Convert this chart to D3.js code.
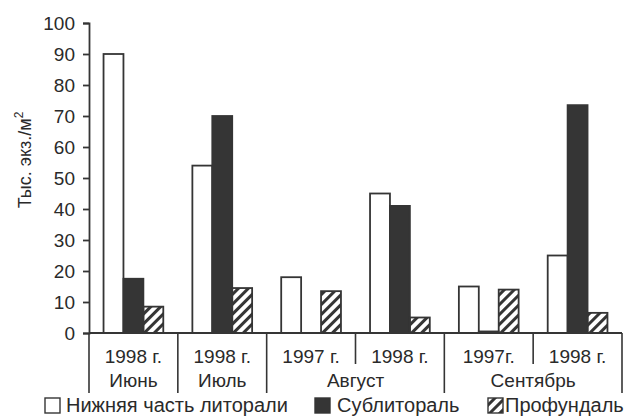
<!DOCTYPE html>
<html>
<head>
<meta charset="utf-8">
<script src="https://cdn.jsdelivr.net/npm/d3@7"></script>
<style>
  body { margin: 0; background: #fff; }
  svg { font-family: 'Liberation Sans', Arial, sans-serif; }
</style>
</head>
<body>
<div id="chart"></div>
<script>
// data
let groups = ['g1', 'g2', 'g3', 'g4', 'g5', 'g6']
let years = ['1998 г.', '1998 г.', '1997 г.', '1998 г.', '1997г.', '1998 г.']
let months = [
  { name: 'Июнь', from: 0, to: 0 },
  { name: 'Июль', from: 1, to: 1 },
  { name: 'Август', from: 2, to: 3 },
  { name: 'Сентябрь', from: 4, to: 5 }
]
let series = ['Нижняя часть литорали', 'Сублитораль', 'Профундаль']
let littoral = [90, 54, 18, 45, 15, 25]
let sublittoral = [17.5, 70, 0, 41, 0.5, 73.5]
let profundal = [8.5, 14.5, 13.5, 5, 14, 6.5]
let yTicks = [0, 10, 20, 30, 40, 50, 60, 70, 80, 90, 100]

let ink = '#353535'
let textInk = '#2a2a2a'
let width = 625
let height = 416
let margin = { top: 23, left: 89, right: 3, bottom: 83 }

let svg = d3.select('#chart')
  .append('svg')
  .attr('width', width)
  .attr('height', height)

let defs = svg.append('defs')
defs.append('pattern')
  .attr('id', 'hatch')
  .attr('patternUnits', 'userSpaceOnUse')
  .attr('width', 7)
  .attr('height', 7)
  .attr('patternTransform', 'rotate(45)')
  .append('rect')
  .attr('x', 0)
  .attr('y', 0)
  .attr('width', 3)
  .attr('height', 7)
  .attr('fill', ink)

let x0 = d3.scaleBand()
  .domain(groups)
  .range([margin.left, width - margin.right])

let x1 = d3.scaleBand()
  .domain(series)
  .range([0, x0.bandwidth()])
  .paddingOuter(0.73)

let y = d3.scaleLinear()
  .domain([0, 100])
  .range([height - margin.bottom, margin.top])

let fills = ['#fff', ink, 'url(#hatch)']
let values = [littoral, sublittoral, profundal]

let rows = []
groups.forEach((g, i) => {
  series.forEach((s, j) => {
    rows.push({ group: g, series: s, value: values[j][i], fill: fills[j] })
  })
})

svg.selectAll('.bar')
  .data(rows)
  .enter()
  .append('rect')
  .attr('class', 'bar')
  .attr('x', d => x0(d.group) + x1(d.series))
  .attr('y', d => y(d.value))
  .attr('width', x1.bandwidth())
  .attr('height', d => y(0) - y(d.value))
  .attr('fill', d => d.fill)
  .attr('stroke', ink)
  .attr('stroke-width', 1.8)

// y axis
let yAxis = svg.append('g')
  .attr('transform', `translate(${margin.left},0)`)
  .call(d3.axisLeft(y).tickValues(yTicks).tickSize(6).tickPadding(8))
yAxis.select('.domain').attr('stroke', ink).attr('stroke-width', 1.8)
yAxis.selectAll('.tick line').attr('stroke', ink).attr('stroke-width', 1.8)
yAxis.selectAll('.tick text')
  .attr('font-size', 19)
  .attr('fill', textInk)
  .attr('font-family', 'Liberation Sans, Arial, sans-serif')

// baseline
let base = y(0)
svg.append('line')
  .attr('x1', margin.left)
  .attr('x2', width - margin.right)
  .attr('y1', base)
  .attr('y2', base)
  .attr('stroke', ink)
  .attr('stroke-width', 1.8)

// category separators
let bounds = d3.range(groups.length + 1)
let monthEdges = [0]
months.forEach(m => monthEdges.push(m.to + 1))
bounds.forEach(i => {
  let xp = i < groups.length ? x0(groups[i]) : x0(groups[i - 1]) + x0.bandwidth()
  let long = monthEdges.includes(i)
  svg.append('line')
    .attr('x1', xp)
    .attr('x2', xp)
    .attr('y1', base)
    .attr('y2', long ? base + 60 : base + 31)
    .attr('stroke', ink)
    .attr('stroke-width', 1.6)
})

svg.selectAll('.year-label')
  .data(groups)
  .enter()
  .append('text')
  .attr('class', 'year-label')
  .attr('x', d => x0(d) + x0.bandwidth() / 2)
  .attr('y', base + 30)
  .attr('text-anchor', 'middle')
  .attr('font-size', 19)
  .attr('fill', textInk)
  .text((d, i) => years[i])

svg.selectAll('.month-label')
  .data(months)
  .enter()
  .append('text')
  .attr('class', 'month-label')
  .attr('x', d => (x0(groups[d.from]) + x0(groups[d.to]) + x0.bandwidth()) / 2)
  .attr('y', base + 54)
  .attr('text-anchor', 'middle')
  .attr('font-size', 19)
  .attr('fill', textInk)
  .text(d => d.name)

// y label
let yLabel = svg.append('text')
  .attr('transform', `translate(31,160)rotate(-90)`)
  .attr('text-anchor', 'middle')
  .attr('font-size', 18)
  .attr('fill', textInk)
yLabel.append('tspan').text('Тыс. экз./м')
yLabel.append('tspan')
  .attr('font-size', 12)
  .attr('dy', -8)
  .text('2')

// legend
let legendBox = [45, 315, 488]
let legendText = [66, 337, 505]
let legend = svg.selectAll('.legend')
  .data(series)
  .enter()
  .append('g')
  .attr('class', 'legend')

legend.append('rect')
  .attr('x', (d, i) => legendBox[i])
  .attr('y', 398)
  .attr('width', 15)
  .attr('height', 15)
  .attr('fill', (d, i) => fills[i])
  .attr('stroke', ink)
  .attr('stroke-width', 1.4)

legend.append('text')
  .attr('x', (d, i) => legendText[i])
  .attr('y', 412)
  .attr('font-size', 20)
  .attr('fill', textInk)
  .text(d => d)
</script>
</body>
</html>
